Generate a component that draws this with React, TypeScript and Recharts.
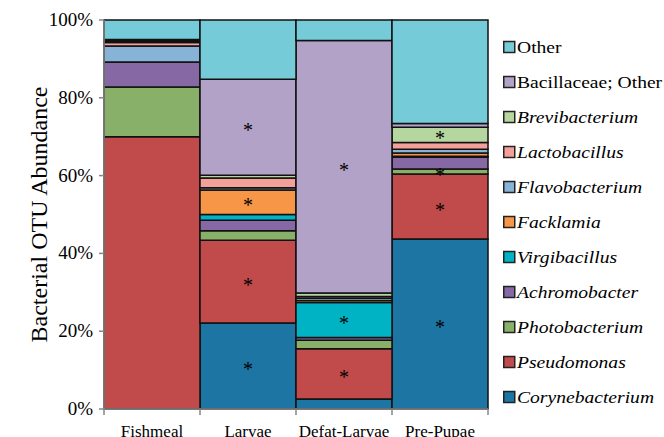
import React from 'react';
import { BarChart, Bar, XAxis, YAxis, LabelList } from 'recharts';

const categories = ['Fishmeal', 'Larvae', 'Defat-Larvae', 'Pre-Pupae'];

const corynebacterium = [0, 22.1, 2.6, 43.7];
const pseudomonas = [70.0, 21.3, 12.9, 16.7];
const photobacterium = [12.8, 2.4, 2.2, 1.3];
const achromobacter = [6.4, 2.7, 0.7, 3.0];
const virgibacillus = [0, 1.5, 9.0, 0.3];
const facklamia = [0, 6.3, 0.5, 0.8];
const flavobacterium = [4.1, 0.6, 0.6, 1.0];
const lactobacillus = [0.9, 2.5, 0.4, 1.7];
const brevibacterium = [0.4, 0.7, 0.9, 3.9];
const bacillaceaeOther = [0.4, 24.7, 64.9, 1.0];
const other = [5.0, 15.2, 5.3, 26.6];

const coryneSig = ['', '*', '', '*'];
const pseudoSig = ['', '*', '*', '*'];
const photoSig = ['', '', '', '*'];
const virgiSig = ['', '', '*', ''];
const facklSig = ['', '*', '', ''];
const breviSig = ['', '', '', '*'];
const bacillSig = ['', '*', '*', ''];
const noSig = ['', '', '', ''];

const yTicks = [0, 20, 40, 60, 80, 100];

const series = [
  { key: 'coryne', name: 'Corynebacterium', values: corynebacterium, sig: coryneSig, color: '#1C75A2', italic: true },
  { key: 'pseudo', name: 'Pseudomonas', values: pseudomonas, sig: pseudoSig, color: '#C14B4A', italic: true },
  { key: 'photo', name: 'Photobacterium', values: photobacterium, sig: photoSig, color: '#88B068', italic: true },
  { key: 'achro', name: 'Achromobacter', values: achromobacter, sig: noSig, color: '#8568A4', italic: true },
  { key: 'virgi', name: 'Virgibacillus', values: virgibacillus, sig: virgiSig, color: '#00B3C4', italic: true },
  { key: 'fackl', name: 'Facklamia', values: facklamia, sig: facklSig, color: '#F79646', italic: true },
  { key: 'flavo', name: 'Flavobacterium', values: flavobacterium, sig: noSig, color: '#87B3D7', italic: true },
  { key: 'lacto', name: 'Lactobacillus', values: lactobacillus, sig: noSig, color: '#F3A09B', italic: true },
  { key: 'brevi', name: 'Brevibacterium', values: brevibacterium, sig: breviSig, color: '#B6D6A0', italic: true },
  { key: 'bacill', name: 'Bacillaceae; Other', values: bacillaceaeOther, sig: bacillSig, color: '#B3A2C7', italic: false },
  { key: 'other', name: 'Other', values: other, sig: noSig, color: '#75CCD8', italic: false },
];

const data = categories.map((c, i) => {
  const row: any = { category: c };
  series.forEach((s) => {
    row[s.key] = s.values[i];
    row[s.key + 'Sig'] = s.sig[i];
  });
  return row;
});

const W = 664;
const H = 437;
const M = { top: 20, right: 176, bottom: 0, left: 0 };
const Y_AXIS_W = 104;
const X_AXIS_H = 28;
const PLOT_LEFT = M.left + Y_AXIS_W;
const PLOT_RIGHT = W - M.right;
const PLOT_BOTTOM = H - M.bottom - X_AXIS_H;
const PLOT_TOP = M.top;
const BAND = (PLOT_RIGHT - PLOT_LEFT) / categories.length;
const FONT = "'Liberation Serif', 'Times New Roman', serif";
const AXIS_COLOR = '#868686';

const XTick = (props: any) => {
  const { x, payload, index } = props;
  const left = x - BAND / 2;
  const right = x + BAND / 2;
  return (
    <g>
      <line x1={left} x2={left} y1={PLOT_BOTTOM} y2={PLOT_BOTTOM + 6} stroke={AXIS_COLOR} strokeWidth={1.5} />
      {index === categories.length - 1 && (
        <line x1={right} x2={right} y1={PLOT_BOTTOM} y2={PLOT_BOTTOM + 6} stroke={AXIS_COLOR} strokeWidth={1.5} />
      )}
      <text x={x} y={PLOT_BOTTOM + 28} textAnchor="middle" fontFamily={FONT} fontSize={17} fill="#000">
        {payload.value}
      </text>
    </g>
  );
};

const YTick = (props: any) => {
  const { y, payload } = props;
  return (
    <g>
      <line x1={PLOT_LEFT - 5} x2={PLOT_LEFT} y1={y} y2={y} stroke={AXIS_COLOR} strokeWidth={1.5} />
      <text x={PLOT_LEFT - 11} y={y} dy={6} textAnchor="end" fontFamily={FONT} fontSize={19} fill="#000">
        {payload.value + '%'}
      </text>
    </g>
  );
};

const SigLabel = (props: any) => {
  const { x, y, width, height, value } = props;
  if (!value) return null;
  return (
    <text
      x={Number(x) + Number(width) / 2}
      y={Number(y) + Number(height) / 2}
      dy={10}
      textAnchor="middle"
      fontFamily={FONT}
      fontSize={20}
      fill="#000"
    >
      {value}
    </text>
  );
};

const LEGEND_X = 503;
const LEGEND_Y0 = 47;
const LEGEND_STEP = 35;

const LegendBox = () => (
  <svg
    width={W - LEGEND_X}
    height={H}
    style={{ position: 'absolute', left: LEGEND_X, top: 0, overflow: 'visible' }}
  >
    {[...series].reverse().map((s, i) => {
      const cy = LEGEND_Y0 + i * LEGEND_STEP;
      return (
        <g key={s.key}>
          <rect x={0.75} y={cy - 5.5} width={11} height={11} fill={s.color} stroke="#222" strokeWidth={1.5} />
          <text
            transform={`translate(14, ${cy + 6}) scale(1.12, 1)`}
            fontFamily={FONT}
            fontSize={17.5}
            fontStyle={s.italic ? 'italic' : 'normal'}
            fill="#000"
          >
            {s.name}
          </text>
        </g>
      );
    })}
  </svg>
);

export default function App() {
  return (
    <div style={{ position: 'absolute', left: 0, top: 0, width: W, height: H, background: '#fff' }}>
      <BarChart width={W} height={H} data={data} margin={M} barCategoryGap={0} barGap={0}>
        <XAxis
          dataKey="category"
          height={X_AXIS_H}
          tick={<XTick />}
          tickLine={false}
          axisLine={{ stroke: AXIS_COLOR, strokeWidth: 1.5 }}
          interval={0}
        />
        <YAxis
          width={Y_AXIS_W}
          domain={[0, 100]}
          ticks={yTicks}
          tick={<YTick />}
          tickLine={false}
          axisLine={{ stroke: AXIS_COLOR, strokeWidth: 1.5 }}
          label={{
            content: () => (
              <text
                transform={`translate(39, ${(PLOT_TOP + PLOT_BOTTOM) / 2}) rotate(-90)`}
                textAnchor="middle"
                dominantBaseline="central"
                fontFamily={FONT}
                fontSize={24}
                fill="#000"
              >
                Bacterial OTU Abundance
              </text>
            ),
          }}
        />
        {series.map((s) => (
          <Bar
            key={s.key}
            dataKey={s.key}
            name={s.name}
            stackId="a"
            fill={s.color}
            stroke="#111"
            strokeWidth={1.5}
            isAnimationActive={false}
          >
            <LabelList dataKey={s.key + 'Sig'} content={<SigLabel />} />
          </Bar>
        ))}
      </BarChart>
      <LegendBox />
    </div>
  );
}
